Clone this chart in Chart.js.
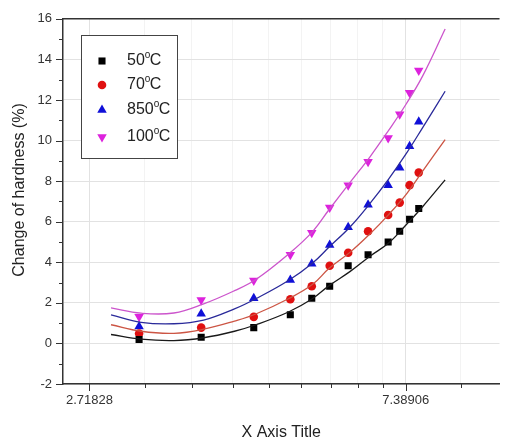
<!DOCTYPE html>
<html>
<head>
<meta charset="utf-8">
<script src="https://cdn.jsdelivr.net/npm/chart.js@4.4.1/dist/chart.umd.min.js"></script>
<style>
  html, body { margin: 0; padding: 0; background: #fff; }
  #wrap { width: 505px; height: 448px; }
</style>
</head>
<body>
<div id="wrap"><canvas id="chart" width="505" height="448"></canvas></div>
<script>
// measured points
const pointX   = [3.18, 3.87, 4.57, 5.13, 5.49, 5.81, 6.16, 6.56, 6.99, 7.25, 7.48, 7.70];
const pts50    = [0.19, 0.30, 0.78, 1.41, 2.23, 2.82, 3.83, 4.37, 5.00, 5.53, 6.12, 6.65];
const pts70    = [0.49, 0.78, 1.31, 2.18, 2.82, 3.83, 4.47, 5.53, 6.33, 6.94, 7.80, 8.42];
const pts850   = [0.83, 1.46, 2.23, 3.12, 3.93, 4.85, 5.73, 6.84, 7.80, 8.66, 9.72, 10.93];
const pts100   = [1.31, 2.14, 3.10, 4.37, 5.45, 6.70, 7.79, 8.95, 10.12, 11.30, 12.35, 13.45];

// fitted curves
const fitX     = [2.91, 3.2, 3.55, 3.9, 4.3, 4.6, 5.1, 5.5, 5.8, 6.2, 6.6, 7.0, 7.4, 7.8, 8.37];
const fit50    = [0.44, 0.21, 0.14, 0.28, 0.60, 0.92, 1.55, 2.20, 2.85, 3.55, 4.30, 4.95, 5.85, 6.75, 8.06];
const fit70    = [0.92, 0.60, 0.50, 0.70, 1.10, 1.45, 2.20, 2.90, 3.70, 4.50, 5.40, 6.35, 7.35, 8.50, 10.05];
const fit850   = [1.41, 1.04, 0.97, 1.15, 1.70, 2.20, 3.10, 3.95, 4.75, 5.75, 6.90, 8.10, 9.35, 10.65, 12.43];
const fit100   = [1.75, 1.49, 1.50, 1.95, 2.60, 3.15, 4.40, 5.50, 6.60, 7.95, 9.20, 10.50, 11.80, 13.20, 15.50];

const seriesLabels = ['50°C', '70°C', '850°C', '100°C'];

// axis ticks
const xMajorTicks  = [2.71828, 7.38906];
const xMajorLabels = ['2.71828', '7.38906'];
const xMinorTicks  = [3.2373, 3.7563, 4.2754, 4.7944, 5.3135, 5.8325, 6.3516, 6.8706, 8.7999];
const yMajorTicks  = [-2, 0, 2, 4, 6, 8, 10, 12, 14, 16];
const yMinorTicks  = [-1, 1, 3, 5, 7, 9, 11, 13, 15];

const FONT = "'Liberation Sans', Arial, sans-serif";

const toXY = (xs, ys) => xs.map((x, i) => ({ x: x, y: ys[i] }));

const fitStyle = (data, color) => ({
    type: 'line',
    data: data,
    borderColor: color,
    borderWidth: 1.3,
    pointRadius: 0,
    fill: false,
    tension: 0.4,
    legendSkip: true,
});

const ptStyle = (label, data, color, style, radius, rotation) => ({
    type: 'scatter',
    label: label,
    data: data,
    backgroundColor: color,
    borderColor: color,
    borderWidth: 0,
    pointStyle: style,
    pointRadius: radius,
    pointRotation: rotation || 0,
    showLine: false,
});

const datasets = [
    fitStyle(toXY(fitX, fit50),  '#1a1a1a'),
    fitStyle(toXY(fitX, fit70),  '#cc5544'),
    fitStyle(toXY(fitX, fit850), '#2a2a9a'),
    fitStyle(toXY(fitX, fit100), '#cc55cc'),
    ptStyle(seriesLabels[0], toXY(pointX, pts50),  '#000000', 'rect', 5),
    ptStyle(seriesLabels[1], toXY(pointX, pts70),  '#e01010', 'circle', 4.3),
    ptStyle(seriesLabels[2], toXY(pointX, pts850), '#1010d8', 'triangle', 5.5),
    ptStyle(seriesLabels[3], toXY(pointX, pts100), '#dd22dd', 'triangle', 5.5, 180),
];

// frame, tick marks, y title and the legend box
const framePlugin = {
    id: 'frame',
    afterDraw(chart) {
        const { ctx, chartArea: a, scales } = chart;
        ctx.save();
        ctx.strokeStyle = '#333';
        ctx.lineWidth = 1.5;
        ctx.beginPath();
        ctx.moveTo(a.left, a.top);
        ctx.lineTo(a.right, a.top);
        ctx.stroke();

        ctx.lineWidth = 1;
        ctx.beginPath();
        for (const v of xMajorTicks) {
            const px = Math.round(scales.x.getPixelForValue(v)) + 0.5;
            ctx.moveTo(px, a.bottom); ctx.lineTo(px, a.bottom + 7);
        }
        for (const v of xMinorTicks) {
            const px = Math.round(scales.x.getPixelForValue(v)) + 0.5;
            ctx.moveTo(px, a.bottom); ctx.lineTo(px, a.bottom + 4);
        }
        for (const v of yMajorTicks) {
            const py = Math.round(scales.y.getPixelForValue(v)) + 0.5;
            ctx.moveTo(a.left, py); ctx.lineTo(a.left - 7, py);
        }
        for (const v of yMinorTicks) {
            const py = Math.round(scales.y.getPixelForValue(v)) + 0.5;
            ctx.moveTo(a.left, py); ctx.lineTo(a.left - 4, py);
        }
        ctx.stroke();

        // y axis title
        ctx.save();
        ctx.translate(20, 190);
        ctx.rotate(-Math.PI / 2);
        ctx.fillStyle = '#222';
        ctx.font = '16px ' + FONT;
        ctx.textAlign = 'center';
        ctx.textBaseline = 'middle';
        ctx.fillText('Change of hardness (%)', 0, 0);
        ctx.restore();

        // legend
        const bx = 81, by = 35, bw = 96, bh = 123;
        ctx.fillStyle = '#fff';
        ctx.fillRect(bx, by, bw, bh);
        ctx.strokeStyle = '#444';
        ctx.lineWidth = 1;
        ctx.strokeRect(bx + 0.5, by + 0.5, bw, bh);

        const rows = [61, 85, 110, 137];
        const pointSets = chart.data.datasets.filter(d => !d.legendSkip);
        pointSets.forEach((ds, i) => {
            const y = rows[i];
            ctx.fillStyle = ds.backgroundColor;
            ctx.strokeStyle = ds.borderColor;
            Chart.helpers.drawPoint(ctx, {
                pointStyle: ds.pointStyle,
                radius: ds.pointRadius,
                rotation: ds.pointRotation,
                borderWidth: 0,
            }, 102, y);

            const [num, unit] = ds.label.split('°');
            ctx.fillStyle = '#222';
            ctx.textBaseline = 'middle';
            ctx.textAlign = 'left';
            ctx.font = '16px ' + FONT;
            let x = 127;
            ctx.fillText(num, x, y);
            x += ctx.measureText(num).width;
            ctx.font = '10px ' + FONT;
            ctx.fillText('o', x, y - 6);
            x += ctx.measureText('o').width - 0.5;
            ctx.font = '16px ' + FONT;
            ctx.fillText(unit, x, y);
        });
        ctx.restore();
    },
};

new Chart(document.getElementById('chart'), {
    type: 'scatter',
    data: { datasets },
    plugins: [framePlugin],
    options: {
        responsive: false,
        animation: false,
        devicePixelRatio: 1,
        layout: { padding: { top: 13, right: 0, left: 0, bottom: 0 } },
        plugins: { legend: { display: false }, tooltip: { enabled: false } },
        scales: {
            x: {
                type: 'logarithmic',
                min: 2.5,
                max: 9.94,
                afterBuildTicks: scale => {
                    scale.ticks = xMajorTicks.concat(xMinorTicks).map(v => ({ value: v }));
                },
                afterFit: scale => { scale.height = 64; },
                ticks: {
                    autoSkip: false,
                    maxRotation: 0,
                    padding: 9,
                    color: '#333',
                    font: { family: FONT, size: 13 },
                    callback: v => {
                        const i = xMajorTicks.indexOf(v);
                        return i >= 0 ? xMajorLabels[i] : '';
                    },
                },
                grid: {
                    drawTicks: false,
                    color: c => (c.tick && xMajorTicks.includes(c.tick.value)) ? '#e2e2e2' : '#f3f3f3',
                },
                border: { color: '#333', width: 1.5 },
                title: {
                    display: true,
                    text: 'X Axis Title',
                    color: '#222',
                    font: { family: FONT, size: 16 },
                    padding: { top: 0, bottom: 6 },
                },
            },
            y: {
                min: -2,
                max: 16,
                afterFit: scale => { scale.width = 63; },
                ticks: {
                    stepSize: 2,
                    padding: 11,
                    color: '#333',
                    font: { family: FONT, size: 13 },
                },
                grid: { drawTicks: false, color: '#e2e2e2' },
                border: { color: '#333', width: 1.5 },
            },
        },
    },
});
</script>
</body>
</html>
